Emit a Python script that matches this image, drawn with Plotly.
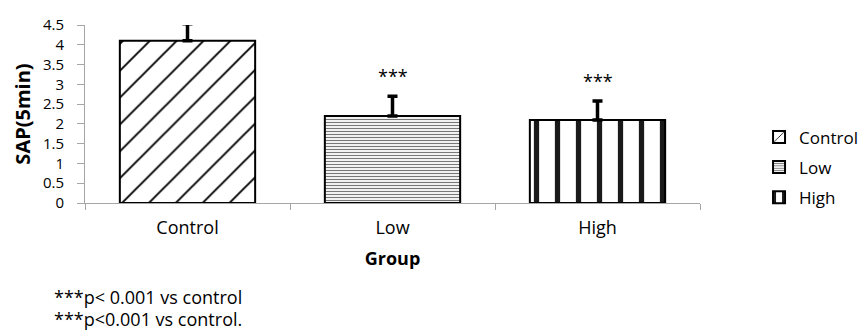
import plotly.graph_objects as go

categories = ["Control", "Low", "High"]
values = [4.1, 2.2, 2.1]
errors = [0.43, 0.5, 0.48]
sig_labels = ["", "***", "***"]
footnotes = ["***p< 0.001 vs control", "***p<0.001 vs control."]

patterns = [
    dict(shape="/", size=19, solidity=0.1, fgcolor="black", fgopacity=1, bgcolor="white"),
    dict(shape="-", size=3, solidity=0.4, fgcolor="#777777", fgopacity=1, bgcolor="white"),
    dict(shape="|", size=21, solidity=0.25, fgcolor="#1a1a1a", fgopacity=1, bgcolor="white"),
]

FONT = "Open Sans"
FS = 18
fig = go.Figure()
for i, c in enumerate(categories):
    fig.add_trace(go.Bar(
        x=[c], y=[values[i]], name=c, width=0.66, legendgroup=c,
        marker=dict(color="white", pattern=patterns[i],
                    line=dict(color="black", width=2)),
        error_y=dict(type="data", symmetric=False, array=[errors[i]], arrayminus=[0],
                     color="black", thickness=3.5, width=5),
    ))
    if sig_labels[i]:
        fig.add_annotation(x=c, y=values[i] + errors[i] + 0.5, text=sig_labels[i],
                           showarrow=False, font=dict(family=FONT, size=FS, color="black"))

fig.add_annotation(xref="paper", yref="paper", x=-0.054, y=-0.528, xanchor="left", yanchor="middle",
                   text=footnotes[0], showarrow=False, font=dict(family=FONT, size=FS, color="black"))
fig.add_annotation(xref="paper", yref="paper", x=-0.054, y=-0.652, xanchor="left", yanchor="middle",
                   text=footnotes[1], showarrow=False, font=dict(family=FONT, size=FS, color="black"))

# page body has an 8px margin: figure is shrunk so the plot area lands where the reference has it
fig.update_layout(
    width=859, height=323,
    margin=dict(l=77, r=167, t=17, b=128, autoexpand=False),
    paper_bgcolor="white", plot_bgcolor="white",
    barmode="overlay",
    font=dict(family=FONT, size=FS, color="black"),
    showlegend=True,
    legend=dict(x=1.096, y=0.2, xanchor="left", yanchor="middle",
                font=dict(family=FONT, size=17), itemsizing="constant", itemwidth=30,
                tracegroupgap=5, bgcolor="rgba(0,0,0,0)"),
    xaxis=dict(type="category", categoryorder="array", categoryarray=categories,
               showline=True, linecolor="#a6a6a6", linewidth=1, automargin=False,
               ticks="outside", tickson="boundaries", ticklen=6, tickcolor="#a6a6a6",
               showgrid=False, ticklabelstandoff=8,
               title=dict(text="<b>Group</b>", font=dict(family=FONT, size=18), standoff=14)),
    yaxis=dict(range=[0, 4.5], dtick=0.5, showline=True, linecolor="#a6a6a6", linewidth=1,
               automargin=False,
               ticks="outside", ticklen=7, tickcolor="#a6a6a6", showgrid=False, zeroline=False,
               ticklabelstandoff=10, tickfont=dict(size=15),
               title=dict(text="<b>SAP(5min)</b>", font=dict(family=FONT, size=20), standoff=6)),
)

fig.write_html("out.html")
